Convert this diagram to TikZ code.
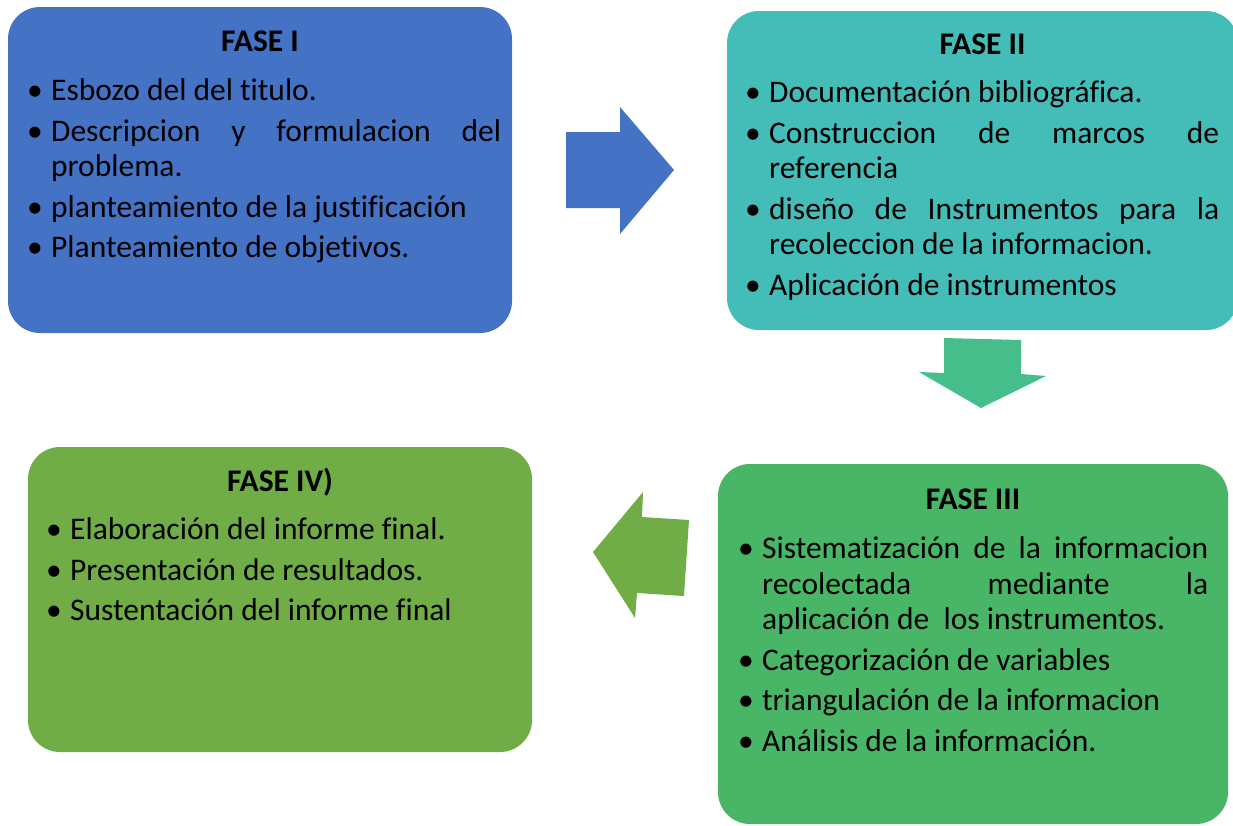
\documentclass[tikz,border=0pt]{standalone}
\usepackage{fontspec}
\setmainfont{Carlito}[Ligatures={NoCommon}]
\usepackage{tikz}

\definecolor{faseuno}{HTML}{4472C4}
\definecolor{fasedos}{HTML}{44BDB9}
\definecolor{fasetres}{HTML}{48B666}
\definecolor{fasecuatro}{HTML}{70AD47}
\definecolor{flechados}{HTML}{46BE8C}
\newcommand{\fitem}[1]{\par\hangindent=22pt\hangafter=1\noindent\hbox to 22pt{\hspace{-2pt}\textbullet\hfil}\strut#1}

\begin{document}
\begin{tikzpicture}[x=1pt,y=-1pt]
			\tikzstyle{every node}+=[inner sep=0pt]
			\tikzstyle{caja}=[rectangle, rounded corners=32pt]
			\tikzstyle{titulo}=[anchor=base, font=\fontsize{31.5}{35.5}\selectfont\bfseries]
			\tikzstyle{lista}=[anchor=north west, align=justify, font=\fontsize{31.5}{35.5}\selectfont, execute at begin node={\setlength{\parskip}{5pt}\tolerance=10000\hyphenpenalty=10000}]
			\useasboundingbox (0,0) rectangle (1233,825);
			\node [caja, fill=faseuno, minimum width=504pt, minimum height=326pt] (fase1) at (260,170) {};
			\node [caja, fill=fasedos, minimum width=511pt, minimum height=319pt] (fase2) at (982.5,170.5) {};
			\node [caja, fill=fasetres, minimum width=510pt, minimum height=360pt] (fase3) at (973,644) {};
			\node [caja, fill=fasecuatro, minimum width=504pt, minimum height=305pt] (fase4) at (280,599.5) {};
			\node [titulo] (tit1) at ([yshift=-45pt]fase1.north) {FASE I};
			\node [titulo] (tit2) at ([yshift=-44pt]fase2.north) {FASE II};
			\node [titulo] (tit3) at ([yshift=-46pt]fase3.north) {FASE III};
			\node [titulo] (tit4) at ([yshift=-45pt]fase4.north) {FASE IV)};
			\node [lista, text width=472pt] (lis1) at (29,60) {%
				\fitem{Esbozo del del titulo.}
				\fitem{Descripcion y formulacion del\linebreak problema.}
				\fitem{planteamiento de la justificación}
				\fitem{Planteamiento de objetivos.}};
			\node [lista, text width=472pt] (lis2) at (747,62) {%
				\fitem{Documentación bibliográfica.}
				\fitem{Construccion de marcos de\linebreak referencia}
				\fitem{diseño de Instrumentos para la\linebreak recoleccion de la informacion.}
				\fitem{Aplicación de instrumentos}};
			\node [lista, text width=468pt] (lis3) at (740,518) {%
				\fitem{Sistematización de la informacion\linebreak recolectada mediante la\linebreak aplicación de~ los instrumentos.}
				\fitem{Categorización de variables}
				\fitem{triangulación de la informacion}
				\fitem{Análisis de la información.}};
			\node [lista, text width=472pt] (lis4) at (48,499) {%
				\fitem{Elaboración del informe final.}
				\fitem{Presentación de resultados.}
				\fitem{Sustentación del informe final}};
			\fill [faseuno] (566,132) -- (620,132) -- (620,107) -- (674,170) -- (620,234) -- (620,208) -- (566,208) -- cycle;
			\fill [flechados] (944,338) -- (1021,340) -- (1021,374) -- (1046,376) -- (981,408) -- (919,372) -- (944,373) -- cycle;
			\fill [fasecuatro] (689,520) -- (684,596) -- (637,593) -- (635,618) -- (593,552) -- (643,492) -- (642,517) -- cycle;
\end{tikzpicture}
\end{document}
